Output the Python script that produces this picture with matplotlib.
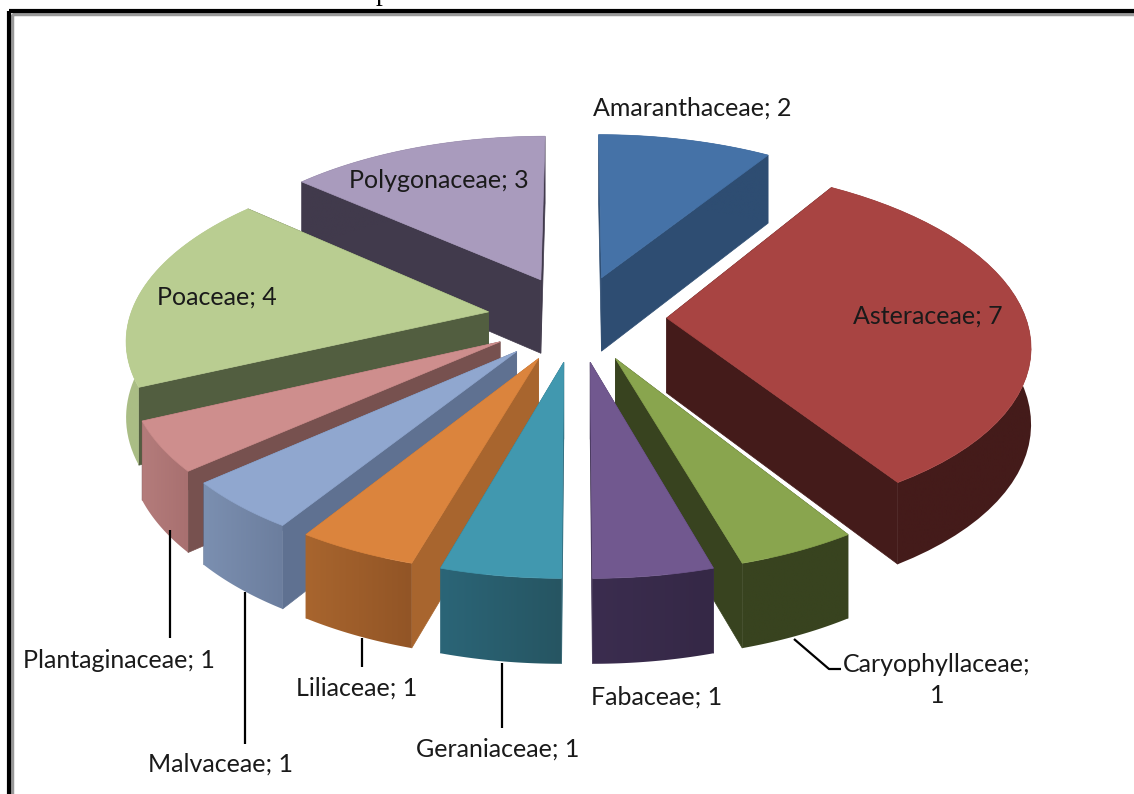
import numpy as np
import matplotlib
matplotlib.use("Agg")
import matplotlib.pyplot as plt
from matplotlib.colors import to_rgb
from matplotlib.patches import Polygon, Rectangle

families = ["Amaranthaceae", "Asteraceae", "Caryophyllaceae", "Fabaceae", "Geraniaceae",
            "Liliaceae", "Malvaceae", "Plantaginaceae", "Poaceae", "Polygonaceae"]
counts = [2, 7, 1, 1, 1, 1, 1, 1, 4, 3]

top_colors = ["#4572a7", "#a84442", "#89a54e", "#71588f", "#4198af",
              "#db843d", "#90a7cf", "#ce8e8d", "#b9cd91", "#a99bbd"]
cut_colors = ["#2e4d72", "#441b1a", "#38431f", "#3b2d4f", "#2b6577",
              "#a8652e", "#5f7191", "#77514f", "#525e40", "#413a4c"]
side_left = ["#2e4d72", "#441b1a", "#38431f", "#3b2d4f", "#2b6577",
             "#a8652e", "#7b8fb0", "#b47c7b", "#aabd85", "#413a4c"]
side_right = ["#2e4d72", "#441b1a", "#38431f", "#352846", "#265562",
              "#925526", "#6c7e9e", "#a87070", "#aabd85", "#413a4c"]

# projection of the pie plane to pixels
cx, cy = 577, 318
rx, ry = 359, 173
persp = 0.137
height = 75
explode = 0.25


def project(x, y, down=False):
    s = 1 / (1 + persp * y)
    sy = cy - ry * y * s
    if down:
        sy = sy + height * s ** 0.7
    return cx + rx * x * s, sy


def outline(a0, a1, mid, down=False):
    ox, oy = explode * np.sin(mid), explode * np.cos(mid)
    ang = np.linspace(a0, a1, 40)
    return project(ox + np.sin(ang), oy + np.cos(ang), down), project(ox, oy, down)


fig = plt.figure(figsize=(11.34, 7.94), dpi=100)
ax = fig.add_axes([0, 0, 1, 1])
ax.axis("off")

edges = np.radians(np.cumsum([0] + counts) / sum(counts) * 360)
mids = (edges[:-1] + edges[1:]) / 2

# back slices first
order = np.argsort(-np.cos(mids))
for z, i in enumerate(order):
    a0, a1, mid = edges[i], edges[i + 1], mids[i]
    (tx, ty), (ax0, ay0) = outline(a0, a1, mid)
    (bx, by), (ax1, ay1) = outline(a0, a1, mid, down=True)

    # cut faces
    for k in (0, -1):
        pts = [(ax0, ay0), (tx[k], ty[k]), (bx[k], by[k]), (ax1, ay1)]
        ax.add_patch(Polygon(pts, fc=cut_colors[i], ec=cut_colors[i], lw=0.5, zorder=z * 10 + 1))

    # rim, a left to right gradient clipped to the slice's curved wall
    rim = np.column_stack([np.r_[tx, bx[::-1]], np.r_[ty, by[::-1]]])
    patch = Polygon(rim, fc="none", ec="none", zorder=z * 10 + 2)
    ax.add_patch(patch)
    ramp = np.linspace(to_rgb(side_left[i]), to_rgb(side_right[i]), 64)[np.newaxis, :, :]
    im = ax.imshow(ramp, extent=[rim[:, 0].min(), rim[:, 0].max(), rim[:, 1].max(), rim[:, 1].min()],
                   aspect="auto", interpolation="bilinear", zorder=z * 10 + 2)
    im.set_clip_path(patch)

    # top face
    pts = [(ax0, ay0)] + list(zip(tx, ty))
    ax.add_patch(Polygon(pts, fc=top_colors[i], ec=top_colors[i], lw=0.5, zorder=z * 10 + 3))

ax.set_xlim(0, 1134)
ax.set_ylim(794, 0)

# leader lines
leaders = [([169.5, 169.5], [530, 638]), ([245, 245], [592, 744]), ([362, 362], [638, 667]),
           ([502, 502], [663, 728]), ([794, 829, 841], [639, 669, 669])]
for lx, ly in leaders:
    ax.plot(lx, ly, color="black", lw=1.6, zorder=200, solid_capstyle="butt")

label_pos = {"Amaranthaceae": (692, 108), "Asteraceae": (928, 316), "Caryophyllaceae": (937, 680),
             "Fabaceae": (657, 697), "Geraniaceae": (498, 749), "Liliaceae": (357, 688),
             "Malvaceae": (221, 764), "Plantaginaceae": (119, 660), "Poaceae": (217, 297),
             "Polygonaceae": (439, 180)}
for name, n in zip(families, counts):
    sep = ";\n" if name == "Caryophyllaceae" else "; "
    ax.text(*label_pos[name], f"{name}{sep}{n}", ha="center", va="center", family="Lato",
            fontsize=18, color="#1a1a1a", zorder=210, linespacing=1.38)

# page frame and the line of body text cut off above it
ax.add_patch(Rectangle((8.5, 10.5), 1200, 900, fc="none", ec="black", lw=3, zorder=220))
ax.add_patch(Rectangle((11.5, 13.5), 1200, 900, fc="none", ec="#999999", lw=2.5, zorder=219))
ax.text(383, 0, "p", family="Liberation Serif", fontsize=20, ha="center", va="baseline", color="black")

fig.savefig("out.png", dpi=100)
